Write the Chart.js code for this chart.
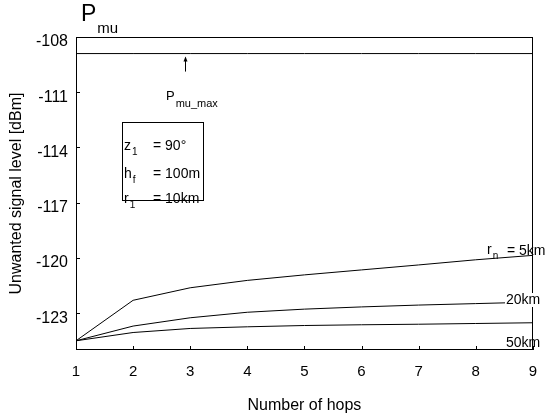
<!DOCTYPE html>
<html>
<head>
<meta charset="utf-8">
<script src="https://cdn.jsdelivr.net/npm/chart.js@4"></script>
<style>
  body { margin: 0; background: #fff; }
  canvas { display: block; }
</style>
</head>
<body>
<canvas id="hopsChart" width="550" height="416"></canvas>
<script>
/* ===============================
   DATA
================================ */
const hops = [1, 2, 3, 4, 5, 6, 7, 8, 9];
const yTicks = [-108, -111, -114, -117, -120, -123];

const level5km  = [-124.5, -122.3, -121.62, -121.22, -120.92, -120.65, -120.38, -120.1, -119.86];
const level20km = [-124.5, -123.7, -123.25, -122.95, -122.78, -122.66, -122.56, -122.48, -122.4];
const level50km = [-124.5, -124.05, -123.83, -123.74, -123.67, -123.63, -123.6, -123.56, -123.52];
const pMuMax = -108.9;

const FONT = "'Liberation Sans', Arial, sans-serif";

/* -------------------------------
   helpers
-------------------------------- */
function toPoints(values) {
  return hops.map((h, i) => ({ x: h, y: values[i] }));
}

function lineSet(values) {
  return {
    data: toPoints(values),
    borderColor: "#000",
    borderWidth: 1,
    pointRadius: 0,
    tension: 0
  };
}

// base text followed by a lowered subscript
function subText(ctx, base, sub, x, y, size, subSize, drop) {
  ctx.font = `${size}px ${FONT}`;
  ctx.fillText(base, x, y);
  const w = ctx.measureText(base).width;
  ctx.font = `${subSize}px ${FONT}`;
  ctx.fillText(sub, x + w + 1, y + drop);
  return x + w + 1 + ctx.measureText(sub).width;
}

/* -------------------------------
   frame, inward ticks, annotations
-------------------------------- */
const overlay = {
  id: "overlay",
  afterDraw(chart) {
    const { ctx, chartArea: a, scales: { x, y } } = chart;
    ctx.save();
    ctx.strokeStyle = "#000";
    ctx.fillStyle = "#000";
    ctx.lineWidth = 1;

    ctx.strokeRect(Math.round(a.left) + 0.5, Math.round(a.top) + 0.5,
      Math.round(a.right - a.left) - 1, Math.round(a.bottom - a.top) - 1);

    ctx.beginPath();
    hops.forEach(h => {
      const px = Math.round(x.getPixelForValue(h)) + 0.5;
      ctx.moveTo(px, a.bottom);
      ctx.lineTo(px, a.bottom - 4);
    });
    yTicks.forEach(v => {
      const py = Math.round(y.getPixelForValue(v)) + 0.5;
      ctx.moveTo(a.left, py);
      ctx.lineTo(a.left + 4, py);
    });
    ctx.stroke();

    ctx.textBaseline = "middle";
    ctx.textAlign = "left";

    // P_mu heading
    subText(ctx, "P", "mu", 81, 15, 23, 15, 14);

    // P_mu_max arrow + label
    const ax = 185.5;
    const ay = y.getPixelForValue(pMuMax);
    ctx.beginPath();
    ctx.moveTo(ax, ay + 18);
    ctx.lineTo(ax, ay + 4);
    ctx.stroke();
    ctx.beginPath();
    ctx.moveTo(ax, ay + 3);
    ctx.lineTo(ax - 2, ay + 8);
    ctx.lineTo(ax + 2, ay + 8);
    ctx.closePath();
    ctx.fill();
    subText(ctx, "P", "mu_max", 166, 96, 13, 11, 8);

    // parameter box
    ctx.strokeRect(122.5, 122.5, 81, 78);
    subText(ctx, "z", "1", 124, 146, 14, 10, 6);
    ctx.font = `14px ${FONT}`;
    ctx.fillText("= 90°", 153, 146);
    subText(ctx, "h", "f", 124, 174, 14, 10, 6);
    ctx.font = `14px ${FONT}`;
    ctx.fillText("= 100m", 153, 174);
    subText(ctx, "r", "1", 124, 199, 14, 10, 6);
    ctx.font = `14px ${FONT}`;
    ctx.fillText("= 10km", 153, 199);

    // curve labels
    subText(ctx, "r", "n", 487, 250, 14, 10, 6);
    ctx.font = `14px ${FONT}`;
    ctx.fillText("= 5km", 507, 251);
    ctx.fillStyle = "#fff";
    ctx.fillRect(505, 293, 37, 14);
    ctx.fillStyle = "#000";
    ctx.fillText("20km", 506, 300);
    ctx.fillText("50km", 506, 343);

    ctx.restore();
  }
};

/* ===============================
   CHART
================================ */
new Chart(document.getElementById("hopsChart"), {
  type: "line",
  data: {
    datasets: [
      lineSet(hops.map(() => pMuMax)),
      lineSet(level5km),
      lineSet(level20km),
      lineSet(level50km)
    ]
  },
  options: {
    responsive: false,
    animation: false,
    layout: { padding: { top: 37, right: 3, left: 0, bottom: 0 } },
    plugins: {
      legend: { display: false },
      tooltip: { enabled: false }
    },
    scales: {
      x: {
        type: "linear",
        min: 1,
        max: 9,
        grid: { display: false, drawTicks: false },
        border: { display: false },
        ticks: {
          stepSize: 1,
          color: "#000",
          padding: 13,
          font: { family: FONT, size: 15 }
        },
        title: {
          display: true,
          text: "Number of hops",
          color: "#000",
          padding: { top: 0, bottom: 1 },
          font: { family: FONT, size: 16 }
        },
        afterFit: s => { s.height = 66; }
      },
      y: {
        type: "linear",
        min: -125,
        max: -108,
        grid: { display: false, drawTicks: false },
        border: { display: false },
        afterBuildTicks: s => { s.ticks = yTicks.map(v => ({ value: v })); },
        ticks: {
          color: "#000",
          padding: 8,
          labelOffset: 5,
          font: { family: FONT, size: 16 }
        },
        title: {
          display: true,
          text: "Unwanted signal level [dBm]",
          color: "#000",
          padding: { top: 7, bottom: 0 },
          font: { family: FONT, size: 16 }
        },
        afterFit: s => { s.width = 76; }
      }
    }
  },
  plugins: [overlay]
});
</script>
</body>
</html>
